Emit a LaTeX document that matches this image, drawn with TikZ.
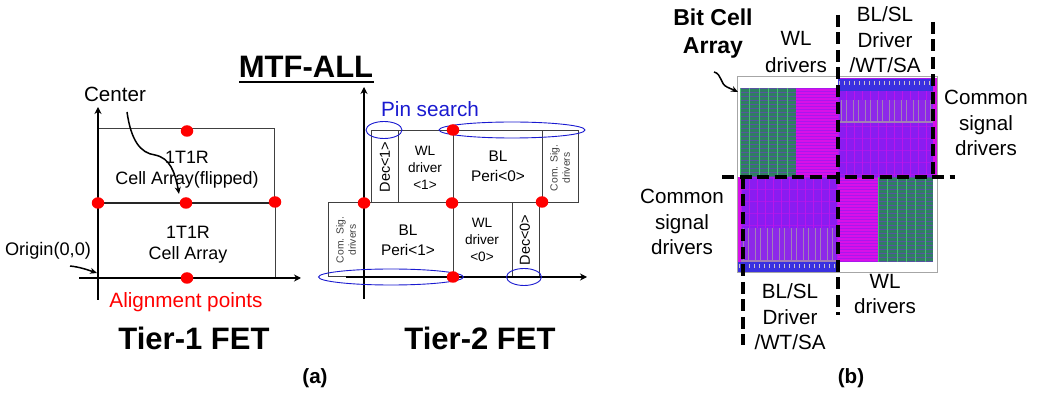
\documentclass[tikz,border=0pt]{standalone}
\usepackage{fontspec}
\setmainfont{Liberation Sans}
\usetikzlibrary{arrows.meta,shapes.geometric}
\definecolor{mgreen}{HTML}{2F7F62}
\definecolor{mlime}{HTML}{50D878}
\definecolor{mmag}{HTML}{D810E8}
\definecolor{mpur}{HTML}{8A1CF0}
\definecolor{mblue}{HTML}{3A30E0}
\definecolor{mgray}{HTML}{A898A8}
\definecolor{pinblue}{HTML}{1A1AD0}
\definecolor{siggray}{HTML}{404040}
\newcommand{\fs}[1]{\fontsize{#1}{#1}\selectfont}
\newcommand{\greenblock}[4]{%
  \fill[mgreen] (#1,#2) rectangle (#3,#4);
  \begin{scope}
  \clip (#1,#2) rectangle (#3,#4);
  \foreach \i in {0,4,...,100} \draw[mpur!45!mgreen,line width=.5] (#1,#2+\i) -- (#3,#2+\i);
  \foreach \i in {0,9.4,...,100} \draw[mlime!70!mgreen,line width=.6] (#1+\i,#2) -- (#1+\i,#4);
  \end{scope}}
\newcommand{\magblock}[4]{%
  \fill[mmag] (#1,#2) rectangle (#3,#4);
  \begin{scope}
  \clip (#1,#2) rectangle (#3,#4);
  \foreach \i in {0,3,...,100} \draw[mpur!60!mmag,line width=.5] (#1,#2+\i) -- (#3,#2+\i);
  \end{scope}}
\newcommand{\purblock}[4]{%
  \fill[mpur] (#1,#2) rectangle (#3,#4);
  \begin{scope}
  \clip (#1,#2) rectangle (#3,#4);
  \foreach \i in {0,12,...,100} \draw[mmag!40!mpur,line width=.5] (#1,#2+\i) -- (#3,#2+\i);
  \foreach \i in {0,8,...,104} \draw[mmag!60!mpur,line width=1] (#1+\i,#2) -- (#1+\i,#4);
  \end{scope}}
\newcommand{\grayblock}[4]{%
  \fill[mpur!90!mgray] (#1,#2) rectangle (#3,#4);
  \begin{scope}
  \clip (#1,#2) rectangle (#3,#4);
  \foreach \i in {2,14,...,104} {\draw[mgray!80!mpur,line width=1] (#1+\i,#2) -- (#1+\i,#4);
    \draw[mgray!80!mpur,line width=1] (#1+\i+5,#2) -- (#1+\i+5,#4);}
  \draw[mgray!80!mpur,line width=1.3] (#1,#4-1) -- (#3,#4-1);
  \end{scope}}
\newcommand{\blueblock}[4]{%
  \fill[mblue] (#1,#2) rectangle (#3,#4);
  \begin{scope}
  \clip (#1,#2) rectangle (#3,#4);
  \foreach \i in {1,6,...,104} \draw[mgray!60!white,line width=.9] (#1+\i,#2+2) -- (#1+\i,#2+6);
  \end{scope}}
\tikzset{
  x=1pt,y=-1pt,
  cellbox/.style={draw=black!75,line width=1},
  midline/.style={draw=black!85,line width=1.7},
  axis/.style={draw=black,line width=2.2,-{Stealth[length=7,width=7]}},
  reddot/.style={shape=ellipse,fill=red,draw=none,inner sep=0,minimum width=12.5,minimum height=11.5},
  pinring/.style={shape=ellipse,draw=pinblue,line width=.9,inner sep=0},
  lbl/.style={inner sep=0,align=center,text=black},
  big/.style={lbl,font=\bfseries\fs{31}},
  sm/.style={lbl,font=\fs{15.4}\linespread{1}},
  sig/.style={lbl,rotate=90,text=siggray,font=\fs{10.3}},
  side/.style={lbl,font=\fs{20.6}},
  cut/.style={draw=black,line width=4,dash pattern=on 12 off 5.5},
  thinarrow/.style={draw=black,line width=1.5,-{Stealth[length=7,width=6]}}
}
\begin{document}
\begin{tikzpicture}
\useasboundingbox (0,0) rectangle (1037,395);
\fill[white] (0,0) rectangle (1037,395);
% ---- Tier-1
\draw[cellbox] (98,129) rectangle (274.5,203);
\draw[cellbox] (98,203) rectangle (275.5,278);
\coordinate (m1) at (98,203);
\coordinate (m2) at (275,203);
\draw[midline] (m1) -- (m2);
\draw[axis] (98,300) -- (98,107);
\draw[axis] (79,278) -- (301,278);
\node[reddot] (t1a) at (187,131) {};
\node[reddot] (t1b) at (98,203) {};
\node[reddot] (t1c) at (186,203) {};
\node[reddot] (t1d) at (275,202) {};
\node[reddot] (t1e) at (187,278) {};
\node[lbl,font=\fs{17.9}] (t1top) at (187,166) {\rule{0pt}{20pt}1T1R\\[3pt]Cell Array(flipped)};
\node[lbl,font=\fs{17.9}] (t1bot) at (188,241) {\rule{0pt}{20pt}1T1R\\[3pt]Cell Array};
\node[lbl,font=\fs{20.6}] (center) at (115,94) {Center};
\node[lbl,font=\fs{18.2}] (origin) at (48,251) {Origin(0,0)};
\node[lbl,text=red,font=\fs{20.7}] (align) at (186,302) {Alignment points};
\node[big] (tier1) at (194,338) {Tier-1 FET};
\coordinate (cs) at (127,112);
\coordinate (ce) at (179,194);
\coordinate (os) at (70,266);
\coordinate (oe) at (97,273);
\draw[thinarrow] (cs) .. controls (131,140) and (140,153) .. (155,155) .. controls (170,158) and (175,172) .. (ce);
\draw[thinarrow] (os) .. controls (80,267) and (88,270) .. (oe);
% ---- title
\node[lbl,font=\bfseries\fs{31}] (title) at (306,67) {MTF-ALL};
\coordinate (u1) at (239,82);
\coordinate (u2) at (374,82);
\draw[black,line width=2.8] (u1) -- (u2);
% ---- Tier-2
\draw[cellbox] (371,131) rectangle (398,203);
\draw[cellbox] (398,131) rectangle (453,203);
\draw[cellbox] (453,131) rectangle (542.5,203);
\draw[cellbox] (542.5,131) rectangle (578,203);
\draw[cellbox] (328,203) rectangle (364,277);
\draw[cellbox] (364,203) rectangle (453,277);
\draw[cellbox] (453,203) rectangle (512,277);
\draw[cellbox] (512,203) rectangle (539,277);
\draw[axis] (364,299) -- (364,87);
\coordinate (xs) at (453,277);
\coordinate (xe) at (587,277);
\draw[draw=black,line width=1.6,-{Stealth[length=7,width=7]}] (xs) -- (xe);
\coordinate (ts) at (346,277);
\coordinate (te) at (463,277);
\draw[black,line width=2.8] (ts) -- (te);
\node[pinring,minimum width=36,minimum height=17] (p1) at (384,130) {};
\node[pinring,minimum width=146,minimum height=16] (p2) at (512,130) {};
\node[pinring,minimum width=145,minimum height=16] (p3) at (391,277) {};
\node[pinring,minimum width=35,minimum height=17] (p4) at (524,277) {};
\node[reddot] (t2a) at (453,130) {};
\node[reddot] (t2b) at (364,203) {};
\node[reddot] (t2c) at (452,203) {};
\node[reddot] (t2d) at (542,202) {};
\node[reddot] (t2e) at (453,277) {};
\node[lbl,text=pinblue,font=\fs{20.7}] (pin) at (430,109) {Pin search};
\node[lbl,rotate=90,font=\fs{14.5}] (dec1) at (385,167) {Dec<1>};
\node[lbl,rotate=90,font=\fs{14.5}] (dec0) at (525,240) {Dec<0>};
\node[lbl,font=\fs{13.6}] (wl1) at (425,168) {WL\\[3.5pt]driver\\[3.5pt]<1>};
\node[lbl,font=\fs{13.6}] (wl0) at (482,240) {WL\\[3.5pt]driver\\[3.5pt]<0>};
\node[sm] (bl0) at (498,166) {BL\\[5pt]Peri<0>};
\node[sm] (bl1) at (408,240) {BL\\[5pt]Peri<1>};
\node[sig] (com0) at (560,168) {Com. Sig.\\[2pt]drivers};
\node[sig] (com1) at (346,240) {Com. Sig.\\[2pt]drivers};
\node[big] (tier2) at (480,338) {Tier-2 FET};
% ---- layout
\greenblock{740}{88}{796}{177}
\magblock{796}{88}{838}{177}
\purblock{838}{78}{935}{177}
\fill[mmag] (933,78) rectangle (937,177);
\blueblock{838}{79}{933}{91}
\grayblock{839}{100}{933}{123}
\fill[mmag] (738,177) rectangle (741,273);
\purblock{741}{177}{838}{273}
\grayblock{741}{228}{836}{262}
\blueblock{738}{262}{838}{272}
\magblock{838}{177}{878}{262}
\greenblock{878}{177}{933}{262}
\draw[black!35,line width=1] (737,77) rectangle (937,273);
% cuts
\coordinate (c1a) at (838,15);
\coordinate (c1b) at (838,315);
\coordinate (c2a) at (933,22);
\coordinate (c2b) at (933,177);
\coordinate (c3a) at (722,177);
\coordinate (c3b) at (955,177);
\coordinate (c4a) at (743,177);
\coordinate (c4b) at (743,345);
\draw[cut] (c1a) -- (c1b);
\draw[cut] (c2a) -- (c2b);
\draw[cut] (c3a) -- (c3b);
\draw[cut] (c4a) -- (c4b);
% labels
\node[lbl,font=\bfseries\fs{23}\linespread{1}] (bca) at (713,34) {Bit Cell\\[5pt]Array};
\coordinate (bs) at (714,72);
\coordinate (be) at (738,92);
\draw[thinarrow] (bs) .. controls (722,74) and (720,84) .. (727,87) .. controls (731,89) and (734,90) .. (be);
\node[side] (wlt) at (796,52) {WL\\[6pt]drivers};
\node[side] (blt) at (885,40) {BL/SL\\[5pt]Driver\\[5pt]/WT/SA};
\node[side] (csr) at (986,123) {Common\\[5pt]signal\\[5pt]drivers};
\node[side] (csl) at (682,222) {Common\\[5pt]signal\\[5pt]drivers};
\node[side] (blb) at (790,317) {BL/SL\\[5pt]Driver\\[5pt]/WT/SA};
\node[side] (wlb) at (885,294) {WL\\[5pt]drivers};
\node[lbl,font=\bfseries\fs{20.6}] (capa) at (315,378) {(a)};
\node[lbl,font=\bfseries\fs{20.6}] (capb) at (851,378) {(b)};
\end{tikzpicture}
\end{document}
